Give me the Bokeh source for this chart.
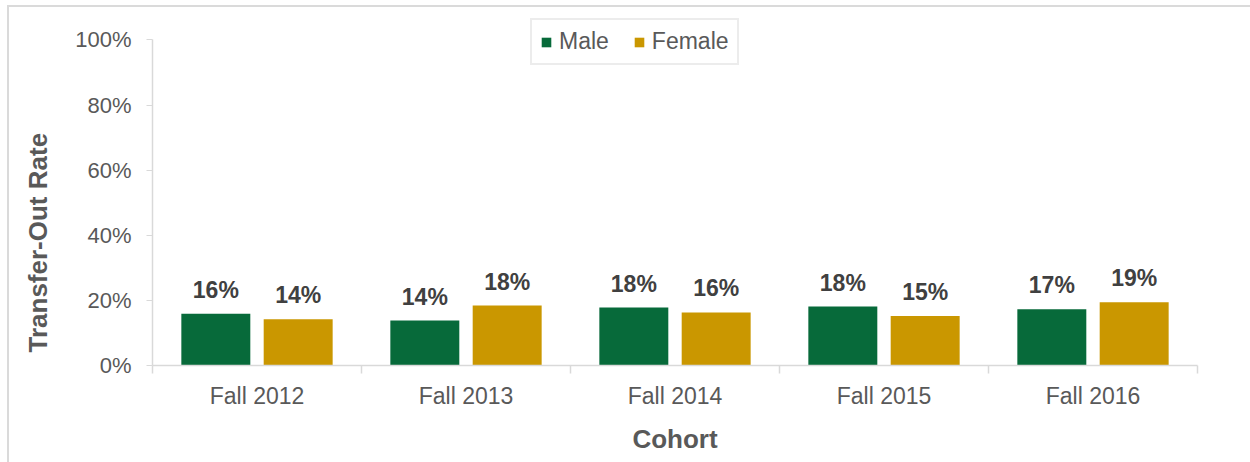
from bokeh.plotting import figure
from bokeh.models import ColumnDataSource, FixedTicker, Range1d, Legend, LegendItem, LabelSet, Title
from bokeh.embed import file_html
from bokeh.resources import INLINE
from bokeh.core.properties import value

# ---- data ----
cohorts = ["Fall 2012", "Fall 2013", "Fall 2014", "Fall 2015", "Fall 2016"]
male = [15.9, 13.8, 17.8, 18.1, 17.3]
female = [14.2, 18.4, 16.3, 15.2, 19.4]
male_labels = ["16%", "14%", "18%", "18%", "17%"]
female_labels = ["14%", "18%", "16%", "15%", "19%"]
y_ticks = [0, 20, 40, 60, 80, 100]
y_tick_labels = ["0%", "20%", "40%", "60%", "80%", "100%"]

GREEN = "#076A3A"
GOLD = "#CA9700"
FONT = "Liberation Sans"
GRAY_TXT = "#595959"
LINE = "#d9d9d9"

n = len(cohorts)
centers = [i + 0.5 for i in range(n)]
off = 0.197
bw = 0.33

src_m = ColumnDataSource(dict(x=[c - off for c in centers], top=male, lab=male_labels))
src_f = ColumnDataSource(dict(x=[c + off for c in centers], top=female, lab=female_labels))

# frame: 100% at y~40, 0% at y~365; frame top extended upward to hold the legend
p = figure(width=1250, height=462, output_backend="svg", toolbar_location=None,
           x_range=Range1d(0, n), y_range=Range1d(0, 106.6),
           min_border_left=152, min_border_right=53, min_border_top=18, min_border_bottom=97)
p.outline_line_color = None
p.xgrid.grid_line_color = None
p.ygrid.grid_line_color = None
p.border_fill_color = None
p.background_fill_color = "white"
p.styles = {
    "background-color": "white",
    "background-image": "linear-gradient(#dadada, #dadada), linear-gradient(#dadada, #dadada)",
    "background-size": "2px calc(100% - 5px), calc(100% - 7px) 2px",
    "background-position": "7px 5px, 7px 5px",
    "background-repeat": "no-repeat",
}

rm = p.vbar(x="x", top="top", width=bw, source=src_m, fill_color=GREEN, line_color=None)
rf = p.vbar(x="x", top="top", width=bw, source=src_f, fill_color=GOLD, line_color=None)

for src in (src_m, src_f):
    p.add_layout(LabelSet(x="x", y="top", text="lab", source=src, y_offset=16,
                          text_align="center", text_baseline="alphabetic",
                          text_font=value(FONT), text_font_size="23px", text_font_style="bold",
                          text_color="#404040"))

# y axis
ya = p.yaxis[0]
ya.bounds = (0, 100)
ya.ticker = FixedTicker(ticks=y_ticks, minor_ticks=[])
ya.major_label_overrides = {t: l for t, l in zip(y_ticks, y_tick_labels)}
ya.major_label_text_font = FONT
ya.major_label_text_font_size = "22px"
ya.major_label_text_color = GRAY_TXT
ya.major_tick_in = 0
ya.major_tick_out = 6
ya.major_tick_line_color = LINE
ya.minor_tick_line_color = None
ya.axis_line_color = LINE
ya.axis_line_width = 1.5
ya.major_label_standoff = 15

ytitle = Title(text="Transfer-Out Rate", align="left", offset=13, standoff=40,
               text_font=FONT, text_font_size="26px", text_font_style="bold",
               text_color=GRAY_TXT)
p.add_layout(ytitle, "left")

# x axis
xa = p.xaxis[0]
xa.ticker = FixedTicker(ticks=centers, minor_ticks=list(range(n + 1)))
xa.major_label_overrides = {c: name for c, name in zip(centers, cohorts)}
xa.major_label_text_font = FONT
xa.major_label_text_font_size = "23px"
xa.major_label_text_color = GRAY_TXT
xa.major_tick_line_color = None
xa.major_tick_in = 0
xa.major_tick_out = 0
xa.minor_tick_in = 0
xa.minor_tick_out = 8
xa.minor_tick_line_color = LINE
xa.minor_tick_line_width = 1.5
xa.axis_line_color = LINE
xa.axis_line_width = 1.5
xa.major_label_standoff = 9
xa.axis_label = "Cohort"
xa.axis_label_text_font = FONT
xa.axis_label_text_font_size = "26px"
xa.axis_label_text_font_style = "bold"
xa.axis_label_text_color = GRAY_TXT
xa.axis_label_standoff = 12

legend = Legend(items=[LegendItem(label="Male", renderers=[rm]),
                       LegendItem(label="Female", renderers=[rf])],
                location=(378, 300), orientation="horizontal",
                glyph_width=12, glyph_height=12, label_standoff=7, spacing=24,
                padding=8, margin=0, label_text_font=FONT, label_text_font_size="23px",
                label_text_color=GRAY_TXT, label_height=20,
                border_line_color=LINE, border_line_width=2, background_fill_alpha=1)
p.add_layout(legend)

open("out.html", "w").write(file_html(p, INLINE))
